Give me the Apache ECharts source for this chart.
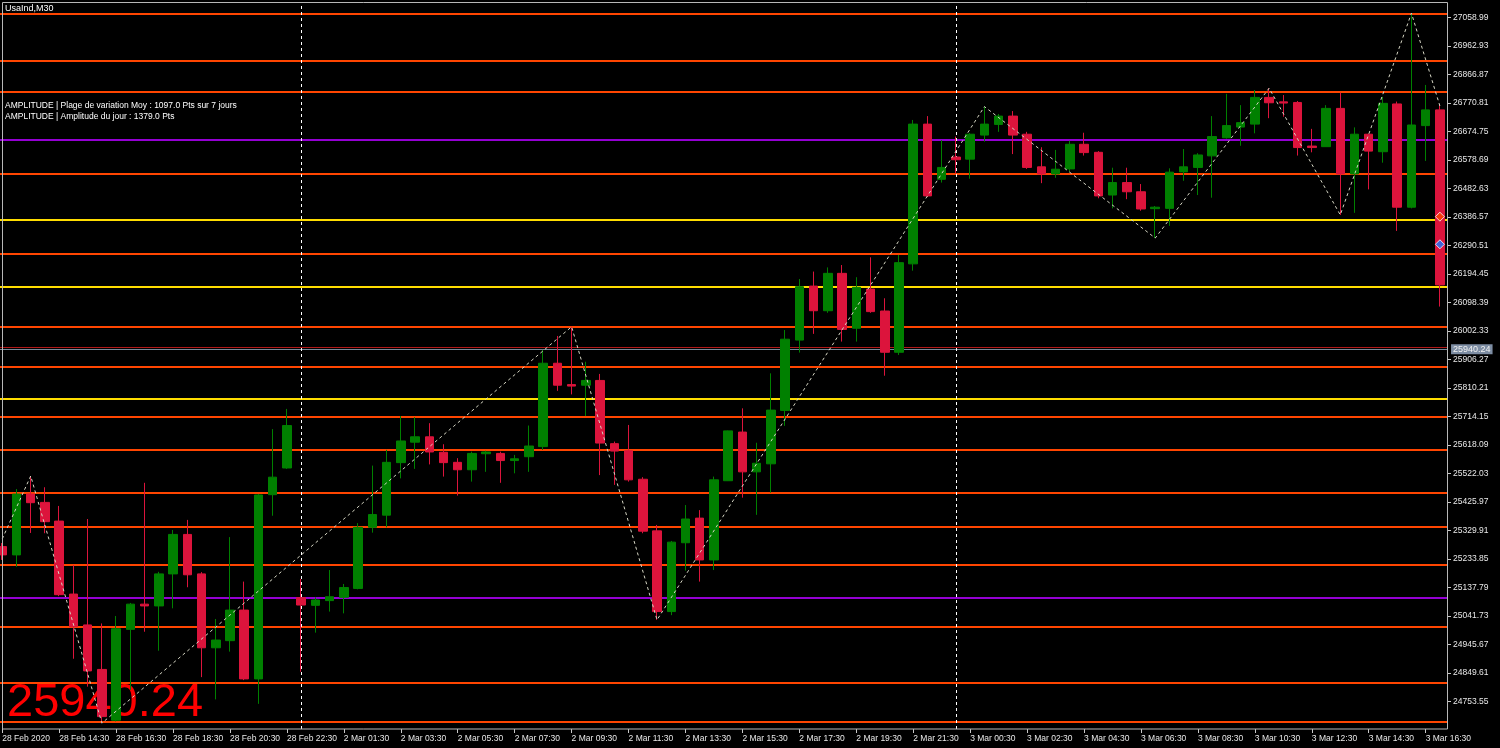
<!DOCTYPE html>
<html><head><meta charset="utf-8">
<script src="https://cdn.jsdelivr.net/npm/echarts@6/dist/echarts.min.js"></script>
<style>html,body{margin:0;padding:0;background:#000}#c{width:1500px;height:748px}</style>
</head><body><div id="c"></div>
<script>
const categories = [
'28 Feb 12:30','28 Feb 13:00','28 Feb 13:30','28 Feb 14:00','28 Feb 14:30','28 Feb 15:00','28 Feb 15:30','28 Feb 16:00','28 Feb 16:30','28 Feb 17:00','28 Feb 17:30','28 Feb 18:00','28 Feb 18:30','28 Feb 19:00','28 Feb 19:30','28 Feb 20:00','28 Feb 20:30','28 Feb 21:00','28 Feb 21:30','28 Feb 22:00','28 Feb 22:30',
'2 Mar 00:00','2 Mar 00:30','2 Mar 01:00','2 Mar 01:30','2 Mar 02:00','2 Mar 02:30','2 Mar 03:00','2 Mar 03:30','2 Mar 04:00','2 Mar 04:30','2 Mar 05:00','2 Mar 05:30','2 Mar 06:00','2 Mar 06:30','2 Mar 07:00','2 Mar 07:30','2 Mar 08:00','2 Mar 08:30','2 Mar 09:00','2 Mar 09:30','2 Mar 10:00','2 Mar 10:30','2 Mar 11:00','2 Mar 11:30','2 Mar 12:00','2 Mar 12:30','2 Mar 13:00','2 Mar 13:30','2 Mar 14:00','2 Mar 14:30','2 Mar 15:00','2 Mar 15:30','2 Mar 16:00','2 Mar 16:30','2 Mar 17:00','2 Mar 17:30','2 Mar 18:00','2 Mar 18:30','2 Mar 19:00','2 Mar 19:30','2 Mar 20:00','2 Mar 20:30','2 Mar 21:00','2 Mar 21:30','2 Mar 22:00','2 Mar 22:30',
'3 Mar 00:00','3 Mar 00:30','3 Mar 01:00','3 Mar 01:30','3 Mar 02:00','3 Mar 02:30','3 Mar 03:00','3 Mar 03:30','3 Mar 04:00','3 Mar 04:30','3 Mar 05:00','3 Mar 05:30','3 Mar 06:00','3 Mar 06:30','3 Mar 07:00','3 Mar 07:30','3 Mar 08:00','3 Mar 08:30','3 Mar 09:00','3 Mar 09:30','3 Mar 10:00','3 Mar 10:30','3 Mar 11:00','3 Mar 11:30','3 Mar 12:00','3 Mar 12:30','3 Mar 13:00','3 Mar 13:30','3 Mar 14:00','3 Mar 14:30','3 Mar 15:00','3 Mar 15:30','3 Mar 16:00','3 Mar 16:30','3 Mar 17:00'
];
const firstTickLabel = '28 Feb 2020';

// [open, close, low, high]
const ohlc = [
[25275,25247,25230,25287],[25247,25452,25207,25469],[25452,25423,25321,25513],[25424,25359,25320,25475],
[25361,25113,25108,25412],[25115,25005,24897,25213],[25011,24856,24803,25368],[24861,24702,24680,25016],
[24690,24998,24686,25041],[24996,25081,24792,25085],[25081,25075,24988,25490],[25075,25183,24924,25190],
[25183,25316,25067,25331],[25316,25180,25138,25365],[25183,24934,24835,25189],[24934,24960,24760,25031],
[24958,25061,24921,25307],[25061,24829,24825,25157],[24829,25449,24745,25452],[25450,25509,25379,25671],
[25540,25683,25537,25739],
[25103,25078,24853,25166],[25077,25095,24985,25104],[25093,25106,25056,25196],[25104,25137,25050,25149],
[25134,25340,25131,25354],[25340,25383,25322,25548],[25381,25559,25340,25601],[25558,25631,25505,25715],
[25627,25645,25537,25711],[25645,25594,25552,25691],[25593,25558,25511,25620],[25559,25534,25447,25573],
[25534,25589,25494,25595],[25588,25594,25527,25598],[25589,25565,25490,25595],[25565,25571,25522,25584],
[25578,25614,25527,25683],[25612,25893,25601,25938],[25893,25819,25800,25985],[25821,25816,25788,26016],
[25819,25835,25715,25898],[25835,25624,25516,25857],[25622,25597,25483,25629],[25598,25500,25494,25685],
[25502,25327,25320,25509],[25328,25056,25028,25348],[25056,25290,25044,25294],[25288,25368,25194,25415],
[25371,25230,25157,25398],[25230,25500,25196,25511],[25497,25665,25496,25666],[25661,25527,25440,25741],
[25527,25556,25382,25625],[25554,25735,25457,25859],[25734,25974,25682,26005],[25971,26151,25929,26177],
[26153,26070,25992,26202],[26070,26196,26063,26216],[26196,26007,25966,26224],[26011,26149,25966,26183],
[26143,26067,26063,26250],[26069,25930,25851,26112],[25930,26232,25921,26258],[26228,26699,26205,26713],
[26699,26457,26453,26726],[26513,26553,26502,26645],
[26588,26579,26533,26657],[26581,26665,26515,26669],[26662,26699,26640,26758],[26698,26726,26673,26733],
[26726,26662,26598,26743],[26665,26553,26548,26673],[26555,26531,26500,26621],[26531,26547,26518,26612],
[26548,26631,26539,26643],[26631,26603,26593,26670],[26604,26457,26449,26608],[26460,26502,26415,26552],
[26502,26471,26446,26552],[26471,26413,26407,26497],[26414,26419,26315,26423],[26415,26537,26356,26550],
[26538,26555,26508,26615],[26553,26595,26460,26601],[26592,26657,26451,26726],[26653,26694,26650,26801],
[26689,26704,26626,26763],[26699,26789,26668,26814],[26789,26771,26719,26820],[26774,26770,26724,26797],
[26772,26620,26593,26777],[26625,26620,26604,26683],[26623,26752,26622,26763],[26752,26531,26393,26805],
[26531,26665,26400,26688],[26665,26608,26479,26666],[26606,26769,26569,26791],[26767,26419,26339,26775],
[26419,26696,26415,27073],[26694,26747,26575,26831],[26747,26157,26084,26767]
];

const yTicks = [24753.55,24849.61,24945.67,25041.73,25137.79,25233.85,25329.91,25425.97,25522.03,25618.09,25714.15,25810.21,25906.27,26002.33,26098.39,26194.45,26290.51,26386.57,26482.63,26578.69,26674.75,26770.81,26866.87,26962.93,27058.99];
const yMin = 24660.2, yMax = 27110.6;

const orangeLevels = [27070.1,26913.4,26809.0,26530.8,26261.2,26016.2,25881.3,25714.2,25602.3,25457.4,25342.1,25212.3,25005.0,24816.3,24685.5];
const yellowLevels = [26377.5,26151.0,25772.5];
const purpleLevels = [26647.8,25104.1];
const bidPrice = 25940.24;
const askPrice = 25946.6;

const zigzagIdx = [0,2,7,40,46,69,81,89,94,99,101];
const zigzagVal = [25301,25513,24680,26016,25028,26758,26315,26820,26393,27073,26760];

const separatorIdx = [21,67];
const markerIdx = [101,101];
const markerVal = [26387,26294];

const headerText = 'UsaInd,M30';
const infoLines = ['AMPLITUDE | Plage de variation Moy : 1097.0 Pts sur 7 jours','AMPLITUDE | Amplitude du jour : 1379.0 Pts'];
const bigPriceText = '25940.24';

// ---- build ----
const FONT = 'Liberation Sans, Arial, sans-serif';
const zigzag = categories.map(() => null);
zigzagIdx.forEach((k, i) => { zigzag[k] = zigzagVal[i]; });

const markLines = [];
orangeLevels.forEach(v => markLines.push({yAxis: v, lineStyle: {color: '#ff4500', width: 2, type: 'solid'}}));
yellowLevels.forEach(v => markLines.push({yAxis: v, lineStyle: {color: '#ffdd00', width: 2, type: 'solid'}}));
purpleLevels.forEach(v => markLines.push({yAxis: v, lineStyle: {color: '#9400d3', width: 2, type: 'solid'}}));
markLines.push({yAxis: askPrice, lineStyle: {color: '#b01818', width: 1, type: 'solid'}});
markLines.push({yAxis: bidPrice, lineStyle: {color: '#778899', width: 1, type: 'solid'},
  label: {show: true, position: 'end', distance: 4, formatter: bidPrice.toFixed(2), color: '#f0f0f0',
    backgroundColor: '#7d8da3', padding: [1, 2, 0, 2], fontSize: 9, fontFamily: FONT}});
separatorIdx.forEach(k => markLines.push({xAxis: categories[k], lineStyle: {color: '#ffffff', width: 1, type: [3, 3]}}));

const markerData = markerIdx.map((k, i) => [k, markerVal[i]]);

const chart = echarts.init(document.getElementById('c'));
chart.setOption({
  backgroundColor: '#000000',
  animation: false,
  grid: {left: -4.87, top: 2, width: 1451.9, height: 727, show: false, containLabel: false, outerBoundsMode: 'none'},
  xAxis: {
    type: 'category', data: categories, boundaryGap: true,
    axisLine: {show: false},
    axisTick: {show: true, interval: 3, alignWithLabel: true, length: 4, lineStyle: {color: '#c8c8c8'}},
    axisLabel: {interval: 3, align: 'left', margin: 5, color: '#e8e8e8', fontSize: 8.5, fontFamily: FONT,
      formatter: (v, i) => i === 0 ? firstTickLabel : v},
    splitLine: {show: false}
  },
  yAxis: {
    type: 'value', position: 'right', min: yMin, max: yMax,
    axisLine: {show: false},
    axisTick: {show: true, length: 4, customValues: yTicks, lineStyle: {color: '#c8c8c8'}},
    axisLabel: {customValues: yTicks, formatter: v => v.toFixed(2), margin: 6, color: '#e8e8e8', fontSize: 8.5, fontFamily: FONT},
    splitLine: {show: false}
  },
  graphic: [
    {type: 'text', z: 0, left: 7, top: 680, style: {text: bigPriceText, fill: '#ff0000', font: '47px Liberation Sans, Arial, sans-serif'}},
    {type: 'text', z: 100, left: 5, top: 4, style: {text: headerText, fill: '#ffffff', font: '9px Liberation Sans, Arial, sans-serif'}},
    {type: 'text', z: 100, left: 5, top: 101, style: {text: infoLines[0], fill: '#ffffff', font: '8.5px Liberation Sans, Arial, sans-serif'}},
    {type: 'text', z: 100, left: 5, top: 112, style: {text: infoLines[1], fill: '#ffffff', font: '8.5px Liberation Sans, Arial, sans-serif'}},
    {type: 'rect', z: 100, silent: true, shape: {x: 2.5, y: 2.5, width: 1445, height: 726.5}, style: {fill: 'none', stroke: '#b8b8b8', lineWidth: 1}}
  ],
  series: [
    {
      type: 'candlestick', data: ohlc, barWidth: 9, z: 3,
      itemStyle: {color: '#008000', color0: '#dc143c', borderColor: '#008000', borderColor0: '#dc143c', borderWidth: 1},
      markLine: {silent: true, symbol: 'none', animation: false, label: {show: false}, data: markLines, z: 1}
    },
    {
      type: 'line', data: zigzag, connectNulls: true, showSymbol: false, symbol: 'none', z: 4,
      lineStyle: {color: '#d6d6c4', width: 1, type: [3, 3]}
    },
    {
      type: 'scatter', data: markerData, symbol: 'diamond', symbolSize: 9, z: 5,
      itemStyle: {color: (p) => p.dataIndex === 0 ? '#ff4500' : '#1e78ff', borderColor: '#ffffff', borderWidth: 1}
    }
  ]
});
</script></body></html>
